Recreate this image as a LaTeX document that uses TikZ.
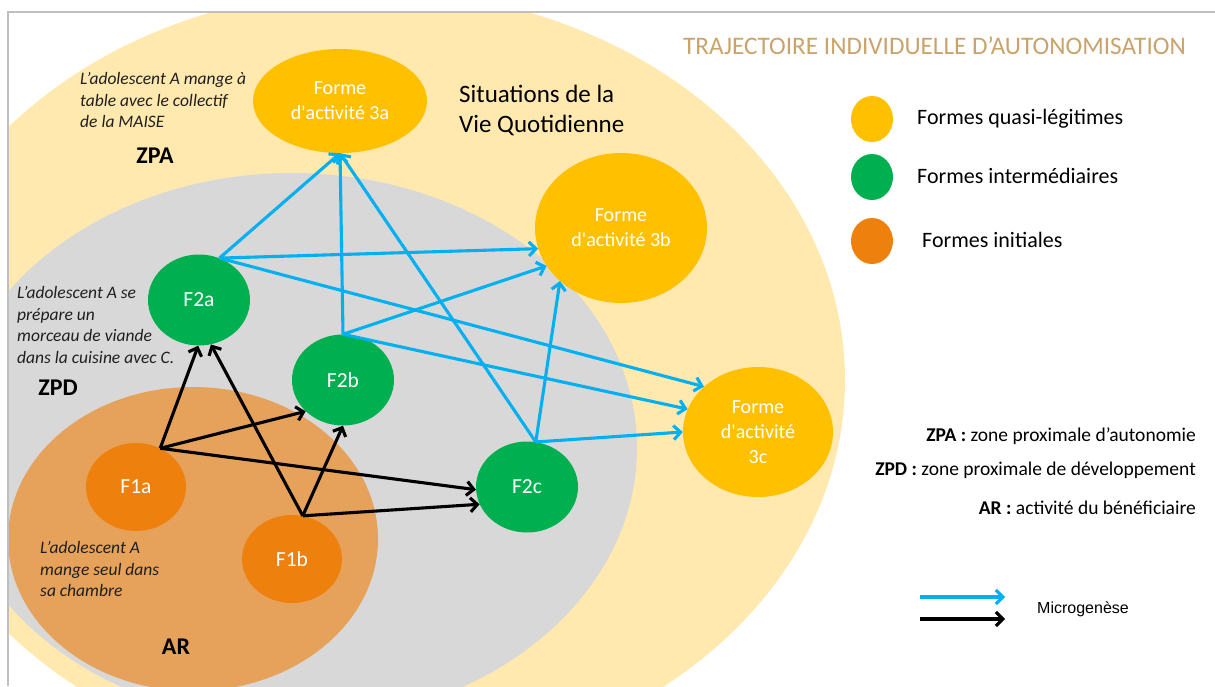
\documentclass[tikz,border=0pt]{standalone}
\usepackage{fontspec}
\setmainfont{Carlito}[Ligatures=TeXOff]
\newfontfamily\arialf{Liberation Sans}
\usetikzlibrary{arrows.meta,shapes.geometric}
\definecolor{zpacol}{HTML}{FFE9AF}
\definecolor{zpdcol}{HTML}{D8D8D8}
\definecolor{arcol}{HTML}{E6A25A}
\definecolor{yelcol}{HTML}{FFC000}
\definecolor{grncol}{HTML}{00B050}
\definecolor{orgcol}{HTML}{EE800E}
\definecolor{arrblue}{HTML}{00B0F0}
\definecolor{titlecol}{HTML}{C9A36B}
\definecolor{framecol}{HTML}{BFBFBF}
\begin{document}
\begin{tikzpicture}[x=1pt,y=-1pt,
  form/.style={ellipse, inner sep=0pt, text=white, align=center},
  bigform/.style={form, fill=yelcol, font=\fontsize{20}{25}\selectfont},
  grnform/.style={form, fill=grncol, minimum width=102pt, minimum height=91pt, font=\fontsize{21.5}{25}\selectfont},
  orgform/.style={form, fill=orgcol, minimum width=100pt, minimum height=88pt, font=\fontsize{21.5}{25}\selectfont},
  bluearr/.style={draw=arrblue, line width=3.1pt, -{Straight Barb[length=7pt,width=14pt]}},
  blackarr/.style={draw=black, line width=3.1pt, -{Straight Barb[length=7pt,width=14pt]}},
  note/.style={anchor=west, inner sep=0pt, align=left, font=\itshape\fontsize{17.5}{21.5}\selectfont, text=black!88},
  zone/.style={font=\bfseries\fontsize{24}{28}\selectfont},
  legtxt/.style={anchor=west, inner sep=0pt, font=\fontsize{22}{26}\selectfont},
  deftxt/.style={anchor=east, inner sep=0pt, font=\fontsize{19.5}{23}\selectfont},
  legdot/.style={ellipse, inner sep=0pt, minimum width=42pt, minimum height=46pt}
]
\useasboundingbox (0,0) rectangle (1215,686);
\begin{scope}
  \clip (8,12) rectangle (1215,686);
  \fill[zpacol] (370,380) ellipse [x radius=475, y radius=390];
  \fill[zpdcol] (292,448) ellipse [x radius=345, y radius=275];
  \fill[arcol] (193,539) ellipse [x radius=185, y radius=152];
\end{scope}
\draw[framecol, line width=1.2pt] (8,686) -- (8,12) -- (1215,12);

% title
\node[anchor=west, inner sep=0pt, text=titlecol, font=\fontsize{25.2}{30}\selectfont] (title) at (683,46) {TRAJECTOIRE INDIVIDUELLE D’AUTONOMISATION};

% zone labels and notes
\node[anchor=west, inner sep=0pt, align=left, font=\fontsize{25}{30}\selectfont] (svq) at (459,110) {Situations de la\\Vie Quotidienne};
\node[note] (n1) at (80,100) {L’adolescent A mange à\\table avec le collectif\\de la MAISE};
\node[note] (n2) at (17,325) {L’adolescent A se\\prépare un\\morceau de viande\\dans la cuisine avec C.};
\node[note] (n3) at (40,569) {L’adolescent A\\mange seul dans\\sa chambre};
\node[zone] (zpa) at (155,156) {ZPA};
\node[zone] (zpd) at (58,388) {ZPD};
\node[zone] (ar) at (176,647) {AR};

% forms
\node[bigform, minimum width=174pt, minimum height=104pt] (f3a) at (340,101) {Forme\\d'activité 3a};
\node[bigform, minimum width=172pt, minimum height=150pt] (f3b) at (621,228) {Forme\\d'activité 3b};
\node[bigform, minimum width=150pt, minimum height=130pt] (f3c) at (758,432) {Forme\\d'activité\\3c};
\node[grnform] (f2a) at (199,300) {F2a};
\node[grnform] (f2b) at (343,380) {F2b};
\node[grnform] (f2c) at (527,487) {F2c};
\node[orgform] (f1a) at (136,487) {F1a};
\node[orgform] (f1b) at (292,559) {F1b};

% blue arrows
\draw[bluearr] (f2a.64) -- (f3a.south);
\draw[bluearr] (f2a.64) -- (f3b.194);
\draw[bluearr] (f2a.64) -- (f3c.140);
\draw[bluearr] (f2b.north) -- (f3a.south);
\draw[bluearr] (f2b.north) -- (f3b.207);
\draw[bluearr] (f2b.north) -- (f3c.162);
\draw[bluearr] (f2c.79) -- (f3a.south);
\draw[bluearr] (f2c.79) -- (f3b.221);
\draw[bluearr] (f2c.79) -- (f3c.180);

% black arrows
\draw[blackarr] (f1a.58) -- (f2a.269);
\draw[blackarr] (f1a.58) -- (f2b.220);
\draw[blackarr] (f1a.58) -- (f2c.183);
\draw[blackarr] (f1b.76) -- (f2a.285);
\draw[blackarr] (f1b.76) -- (f2b.south);
\draw[blackarr] (f1b.76) -- (f2c.200);

% legend
\node[legdot, fill=yelcol] (ly) at (872,119) {};
\node[legdot, fill=grncol] (lg) at (872,177) {};
\node[legdot, fill=orgcol] (lo) at (872,241) {};
\node[legtxt] (lyt) at (917,119) {Formes quasi-légitimes};
\node[legtxt] (lgt) at (917,176) {Formes intermédiaires};
\node[legtxt] (lot) at (922,240) {Formes initiales};

\node[deftxt] (dzpa) at (1196,436) {\textbf{ZPA :} zone proximale d’autonomie};
\node[deftxt] (dzpd) at (1196,470) {\textbf{ZPD :} zone proximale de développement};
\node[deftxt] (dar) at (1196,508) {\textbf{AR :} activité du bénéficiaire};

\coordinate (lb1) at (920,597);
\coordinate (lb2) at (1005,597);
\coordinate (lk1) at (920,619);
\coordinate (lk2) at (1005,619);
\draw[bluearr] (lb1) -- (lb2);
\draw[blackarr] (lk1) -- (lk2);
\node[anchor=west, inner sep=0pt, font=\arialf\fontsize{16}{19}\selectfont] (micro) at (1037,609) {Microgenèse};
\end{tikzpicture}
\end{document}
